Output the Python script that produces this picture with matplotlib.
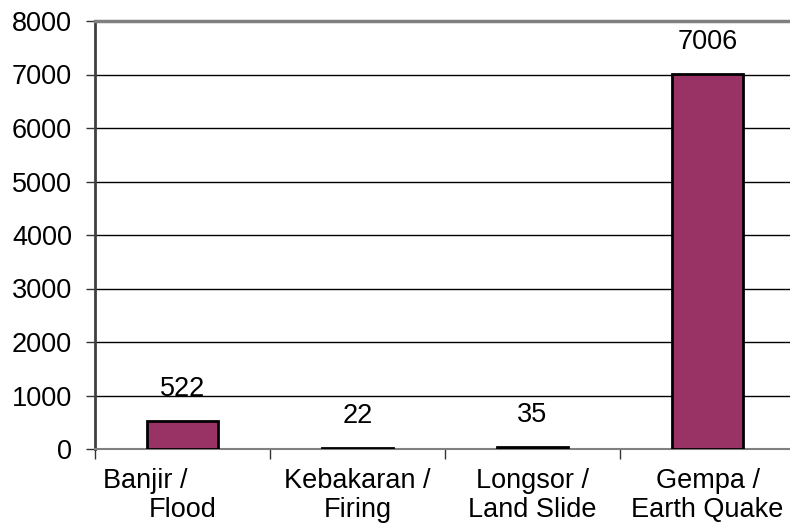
import matplotlib.pyplot as plt
import numpy as np

plt.rcParams['font.family'] = ['Liberation Sans', 'DejaVu Sans']

categories = ['Banjir /          \nFlood', 'Kebakaran /\nFiring', 'Longsor /\nLand Slide', 'Gempa /\nEarth Quake']
values = [522, 22, 35, 7006]
yticks = [0, 1000, 2000, 3000, 4000, 5000, 6000, 7000, 8000]

fig = plt.figure(figsize=(7.9, 5.31), dpi=100)
ax = fig.add_axes([95 / 790, 82 / 531, 700 / 790, 428 / 531])

x = np.arange(len(values))
ax.bar(x, values, width=0.41, color='#993366', edgecolor='black', linewidth=2, zorder=3)

# value labels above the bars
for xi, v in zip(x, values):
    ax.annotate(str(v), (xi, v), xytext=(0, 13.5), textcoords='offset points',
                ha='center', va='bottom', fontsize=19.5)

ax.set_xlim(-0.5, 3.5)
ax.set_ylim(0, 8000)
ax.set_yticks(yticks)
ax.set_yticklabels([str(t) for t in yticks], fontsize=19.5)
ax.yaxis.grid(True, color='black', linewidth=1)
ax.set_axisbelow(True)

# category labels in the middle, tick marks on the boundaries
ax.set_xticks(x)
ax.set_xticklabels(categories, fontsize=19.5, linespacing=1.12)
ax.tick_params(axis='x', which='major', length=0, pad=14)
ax.set_xticks([-0.5, 0.5, 1.5, 2.5], minor=True)
ax.tick_params(axis='x', which='minor', length=7, width=1, color='#333333')
ax.tick_params(axis='y', length=6.5, width=1, color='#333333', pad=10)

ax.spines['left'].set_color('#404040')
ax.spines['left'].set_linewidth(2)
ax.spines['top'].set_color('#808080')
ax.spines['top'].set_linewidth(2.5)
ax.spines['bottom'].set_color('#808080')
ax.spines['bottom'].set_linewidth(1.5)
ax.spines['right'].set_visible(False)

fig.savefig('out.png', dpi=100)
